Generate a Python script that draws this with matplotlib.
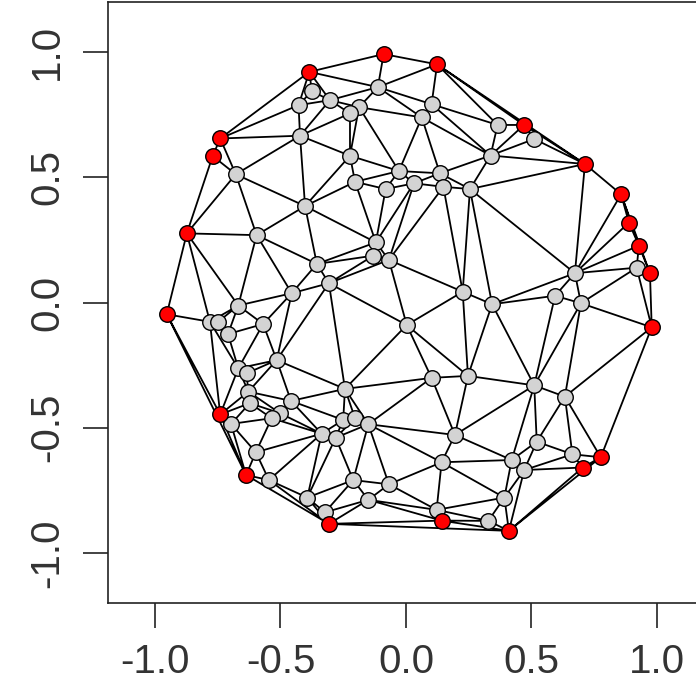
import matplotlib
matplotlib.use("Agg")
import matplotlib.pyplot as plt
import matplotlib.tri as mtri
import numpy as np

plt.rcParams['font.family'] = ['Liberation Sans', 'DejaVu Sans']
plt.rcParams['axes.unicode_minus'] = False

# Convex-hull points (red)
hull_x = [-0.089, 0.124, -0.385, 0.470, -0.740, -0.770, 0.713, 0.857, 0.888, 0.928,
          0.972, 0.979, -0.873, -0.953, -0.740, 0.776, 0.704, -0.637, -0.307, 0.142, 0.410]
hull_y = [0.992, 0.951, 0.921, 0.709, 0.655, 0.585, 0.553, 0.432, 0.319, 0.227,
          0.117, -0.099, 0.276, -0.047, -0.447, -0.618, -0.659, -0.689, -0.884, -0.871, -0.912]

# Interior points (grey)
inner_x = [-0.112, -0.375, -0.303, -0.428, -0.187, -0.223, 0.102, 0.063, 0.365, 0.511,
           0.337, -0.422, -0.223, -0.028, 0.135, -0.678, -0.203, -0.081, 0.032, 0.149,
           0.255, -0.402, -0.595, -0.120, -0.130, -0.068, -0.355, -0.307, -0.455, 0.226,
           0.343, 0.673, 0.594, 0.697, 0.919, -0.668, -0.781, -0.748, -0.569, 0.003,
           -0.709, -0.515, -0.668, -0.635, -0.628, -0.622, -0.458, -0.502, -0.535, -0.697,
           -0.598, -0.546, -0.393, -0.323, -0.243, 0.102, 0.247, -0.250, -0.203, -0.150,
           -0.336, -0.280, 0.195, 0.142, -0.210, -0.068, -0.150, 0.122, 0.328, 0.511,
           0.633, 0.521, 0.663, 0.421, 0.471, 0.392]
inner_y = [0.860, 0.844, 0.808, 0.788, 0.780, 0.755, 0.792, 0.739, 0.709, 0.653,
           0.587, 0.666, 0.586, 0.525, 0.516, 0.512, 0.482, 0.453, 0.476, 0.462,
           0.453, 0.385, 0.269, 0.240, 0.187, 0.170, 0.154, 0.077, 0.037, 0.043,
           -0.007, 0.117, 0.027, -0.003, 0.139, -0.012, -0.077, -0.077, -0.086, -0.090,
           -0.126, -0.230, -0.263, -0.283, -0.356, -0.402, -0.393, -0.442, -0.462, -0.485,
           -0.598, -0.709, -0.779, -0.838, -0.345, -0.301, -0.293, -0.469, -0.462, -0.486,
           -0.524, -0.540, -0.529, -0.638, -0.709, -0.726, -0.788, -0.828, -0.872, -0.331,
           -0.376, -0.556, -0.606, -0.629, -0.669, -0.779]

tick_vals = [-1.0, -0.5, 0.0, 0.5, 1.0]
tick_labels = ["-1.0", "-0.5", "0.0", "0.5", "1.0"]

all_x = np.array(hull_x + inner_x)
all_y = np.array(hull_y + inner_y)

fig = plt.figure(figsize=(6.96, 6.98), dpi=100)
ax = fig.add_axes([108/696, 95/698, 612/696, 601/698])
ax.set_xlim(-1.187, 1.251)
ax.set_ylim(-1.2, 1.2)

tri = mtri.Triangulation(all_x, all_y)
ax.triplot(tri, color='black', lw=1.3, zorder=1)

ax.scatter(inner_x, inner_y, s=125, c='#D3D3D3', edgecolors='black', linewidths=1.0, zorder=3)
ax.scatter(hull_x, hull_y, s=125, c='#FF0000', edgecolors='black', linewidths=1.0, zorder=4)

ax.set_xticks(tick_vals)
ax.set_xticklabels(tick_labels)
ax.set_yticks(tick_vals)
ax.set_yticklabels(tick_labels, rotation=90, va='center')
ax.tick_params(axis='both', length=18, width=1.2, labelsize=29, labelcolor='#333333', color='#222222')
ax.tick_params(axis='x', pad=11)
ax.tick_params(axis='y', pad=12)
for s in ax.spines.values():
    s.set_linewidth(1.2)
    s.set_color('#222222')

fig.savefig('out.png', dpi=100)
